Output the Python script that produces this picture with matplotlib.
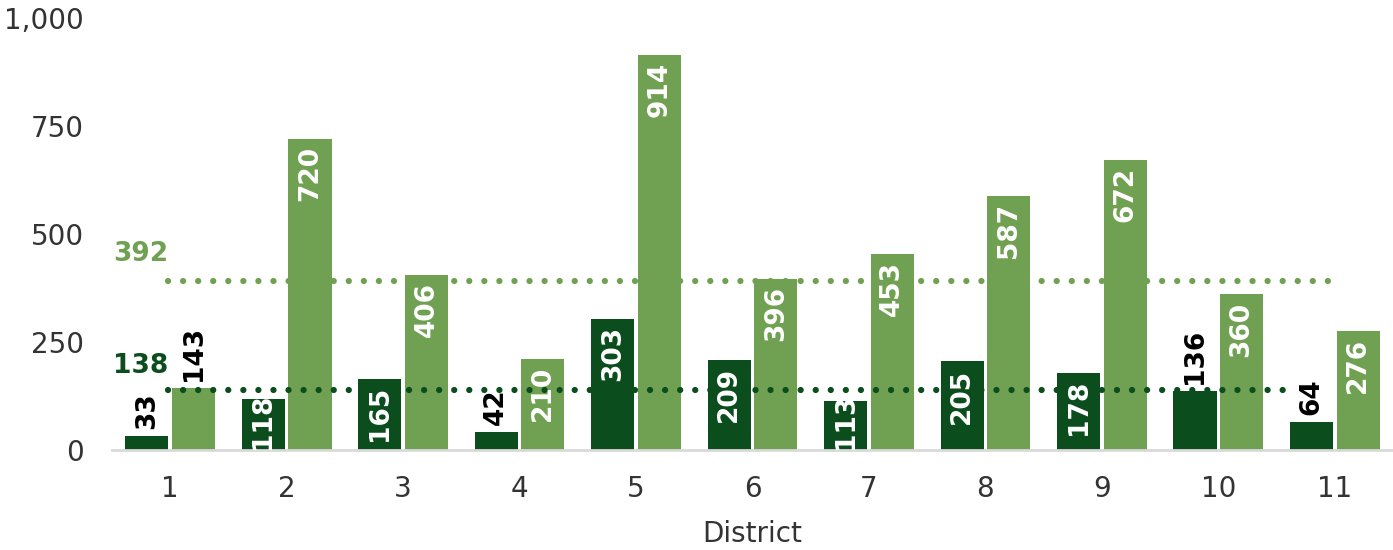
import numpy as np
import matplotlib
matplotlib.use('Agg')
import matplotlib.pyplot as plt

districts = ['1', '2', '3', '4', '5', '6', '7', '8', '9', '10', '11']
dark_values = [33, 118, 165, 42, 303, 209, 113, 205, 178, 136, 64]
light_values = [143, 720, 406, 210, 914, 396, 453, 587, 672, 360, 276]
dark_avg = 138
light_avg = 392
# labels that sit above the bar (black) instead of inside (white)
dark_outside = [True, False, False, True, False, False, False, False, False, True, True]
light_outside = [True, False, False, False, False, False, False, False, False, False, False]

DARK = '#0b4d1c'
LIGHT = '#70a152'
TXT = '#333333'

plt.rcParams['font.family'] = ['DejaVu Sans']

fig = plt.figure(figsize=(13.93, 5.5), dpi=100)
ax = fig.add_axes([0.0804, 0.1818, 0.9196, 0.7855])

x = np.arange(1, len(districts) + 1)
w = 0.37
off = 0.2
ax.bar(x - off, dark_values, width=w, color=DARK, zorder=2)
ax.bar(x + off, light_values, width=w, color=LIGHT, zorder=2)

# average lines (light one behind the bars, dark one in front)
dot = dict(linestyle=(0, (0.01, 2.4)), linewidth=4.5, dash_capstyle='round')
ax.plot([0.98, 10.98], [light_avg, light_avg], color=LIGHT, zorder=1.5, **dot)
ax.plot([0.98, 10.56], [dark_avg, dark_avg], color=DARK, zorder=3, **dot)
ax.annotate(str(light_avg), xy=(0.98, light_avg), xytext=(0, 10), textcoords='offset points',
            ha='right', va='bottom', fontsize=19, fontweight='bold', color=LIGHT)
ax.annotate(str(dark_avg), xy=(0.98, dark_avg), xytext=(0, 8), textcoords='offset points',
            ha='right', va='bottom', fontsize=19, fontweight='bold', color=DARK)


def label(xp, v, outside):
    if outside:
        ax.annotate(str(v), xy=(xp, v), xytext=(0, 5), textcoords='offset points',
                    rotation=90, ha='center', va='bottom', fontsize=19,
                    fontweight='bold', color='black', zorder=4)
    elif v < 130:
        ax.annotate(str(v), xy=(xp, 0), xytext=(0, 1), textcoords='offset points',
                    rotation=90, ha='center', va='bottom', fontsize=19,
                    fontweight='bold', color='white', zorder=4)
    else:
        ax.annotate(str(v), xy=(xp, v), xytext=(0, -5), textcoords='offset points',
                    rotation=90, ha='center', va='top', fontsize=19,
                    fontweight='bold', color='white', zorder=4)


for i in range(len(districts)):
    label(x[i] - off, dark_values[i], dark_outside[i])
    label(x[i] + off, light_values[i], light_outside[i])

ax.set_xlim(0.5, 11.5)
ax.set_ylim(0, 1000)
ax.set_yticks([0, 250, 500, 750, 1000])
ax.set_yticklabels(['0', '250', '500', '750', '1,000'])
ax.set_xticks(x)
ax.set_xticklabels(districts)
ax.tick_params(axis='both', length=0, labelsize=20, colors=TXT)
ax.tick_params(axis='y', pad=20)
ax.tick_params(axis='x', pad=18)
ax.set_xlabel('District', fontsize=20, color=TXT, labelpad=12)

for s in ['top', 'right', 'left']:
    ax.spines[s].set_visible(False)
ax.spines['bottom'].set_color('#d9d9d9')
ax.spines['bottom'].set_linewidth(2)

plt.savefig('out.png', dpi=100)
